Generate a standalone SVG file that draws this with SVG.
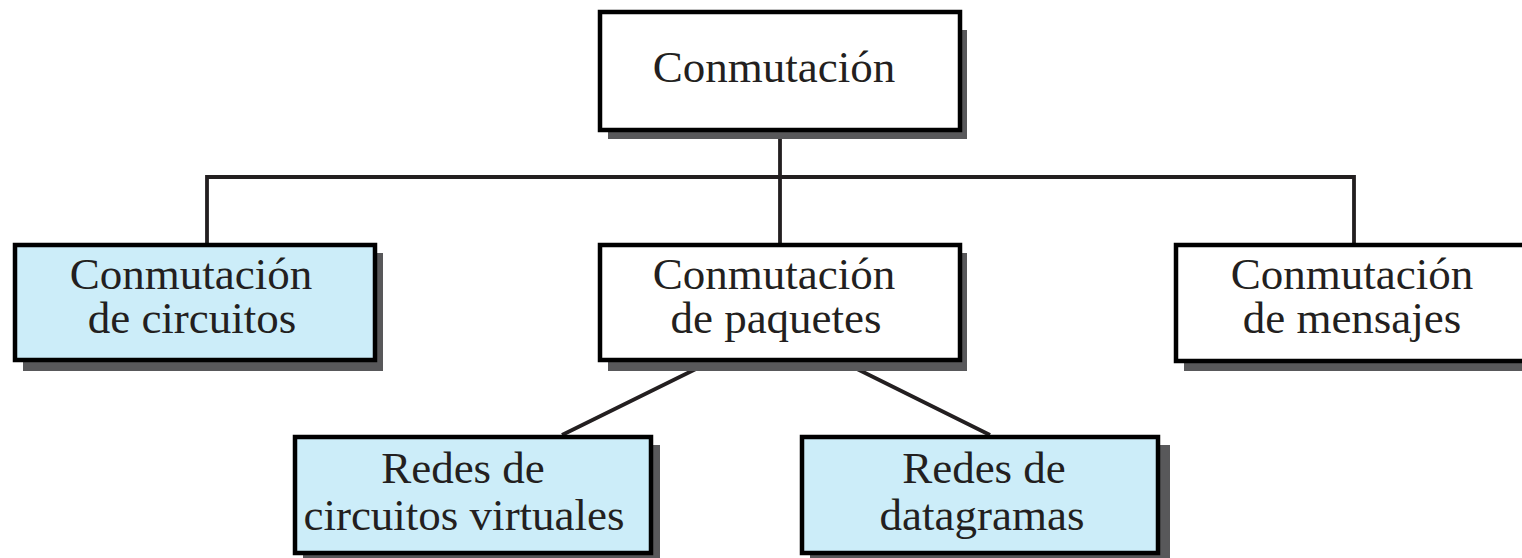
<svg xmlns="http://www.w3.org/2000/svg" width="1522" height="558" viewBox="0 0 1522 558">
<style>
.box{stroke:#000;stroke-width:4.5}
.w{fill:#fff}
.b{fill:#ccedf9}
.sh{fill:#58585a}
.t{font-family:"Liberation Serif","Times New Roman",serif;font-size:45px;fill:#231f20;text-anchor:middle}
.c{stroke:#231f20;stroke-width:3.8;fill:none}
</style>
<rect width="1522" height="558" fill="#fff"/>
<g id="connectors">
<path class="c" d="M207,177H1354M780,132V243M207,175V243M1354,175V243"/>
<path class="c" d="M710,362L562,435M843,362L990,435"/>
</g>
<g id="n-conmutacion">
<rect class="sh" x="608" y="30" width="359" height="109"/>
<rect class="box w" x="600" y="12" width="360" height="118"/>
<text class="t" x="774" y="82">Conmutación</text>
</g>
<g id="n-circuitos">
<rect class="sh" x="23" y="253" width="360" height="118"/>
<rect class="box b" x="15" y="245" width="360" height="115"/>
<text class="t" x="191" y="289">Conmutación</text>
<text class="t" x="192" y="333">de circuitos</text>
</g>
<g id="n-paquetes">
<rect class="sh" x="608" y="253" width="359" height="118"/>
<rect class="box w" x="600" y="245" width="360" height="115"/>
<text class="t" x="774" y="289">Conmutación</text>
<text class="t" x="776" y="333">de paquetes</text>
</g>
<g id="n-mensajes">
<rect class="sh" x="1184" y="253" width="360" height="118"/>
<rect class="box w" x="1176" y="245" width="360" height="116"/>
<text class="t" x="1352" y="289">Conmutación</text>
<text class="t" x="1352" y="333">de mensajes</text>
</g>
<g id="n-virtuales">
<rect class="sh" x="303" y="445" width="357" height="120"/>
<rect class="box b" x="295" y="437" width="356" height="116"/>
<text class="t" x="463" y="483">Redes de</text>
<text class="t" x="464" y="530">circuitos virtuales</text>
</g>
<g id="n-datagramas">
<rect class="sh" x="810" y="445" width="360" height="120"/>
<rect class="box b" x="802" y="437" width="356" height="116"/>
<text class="t" x="984" y="483">Redes de</text>
<text class="t" x="982" y="530">datagramas</text>
</g>
</svg>
